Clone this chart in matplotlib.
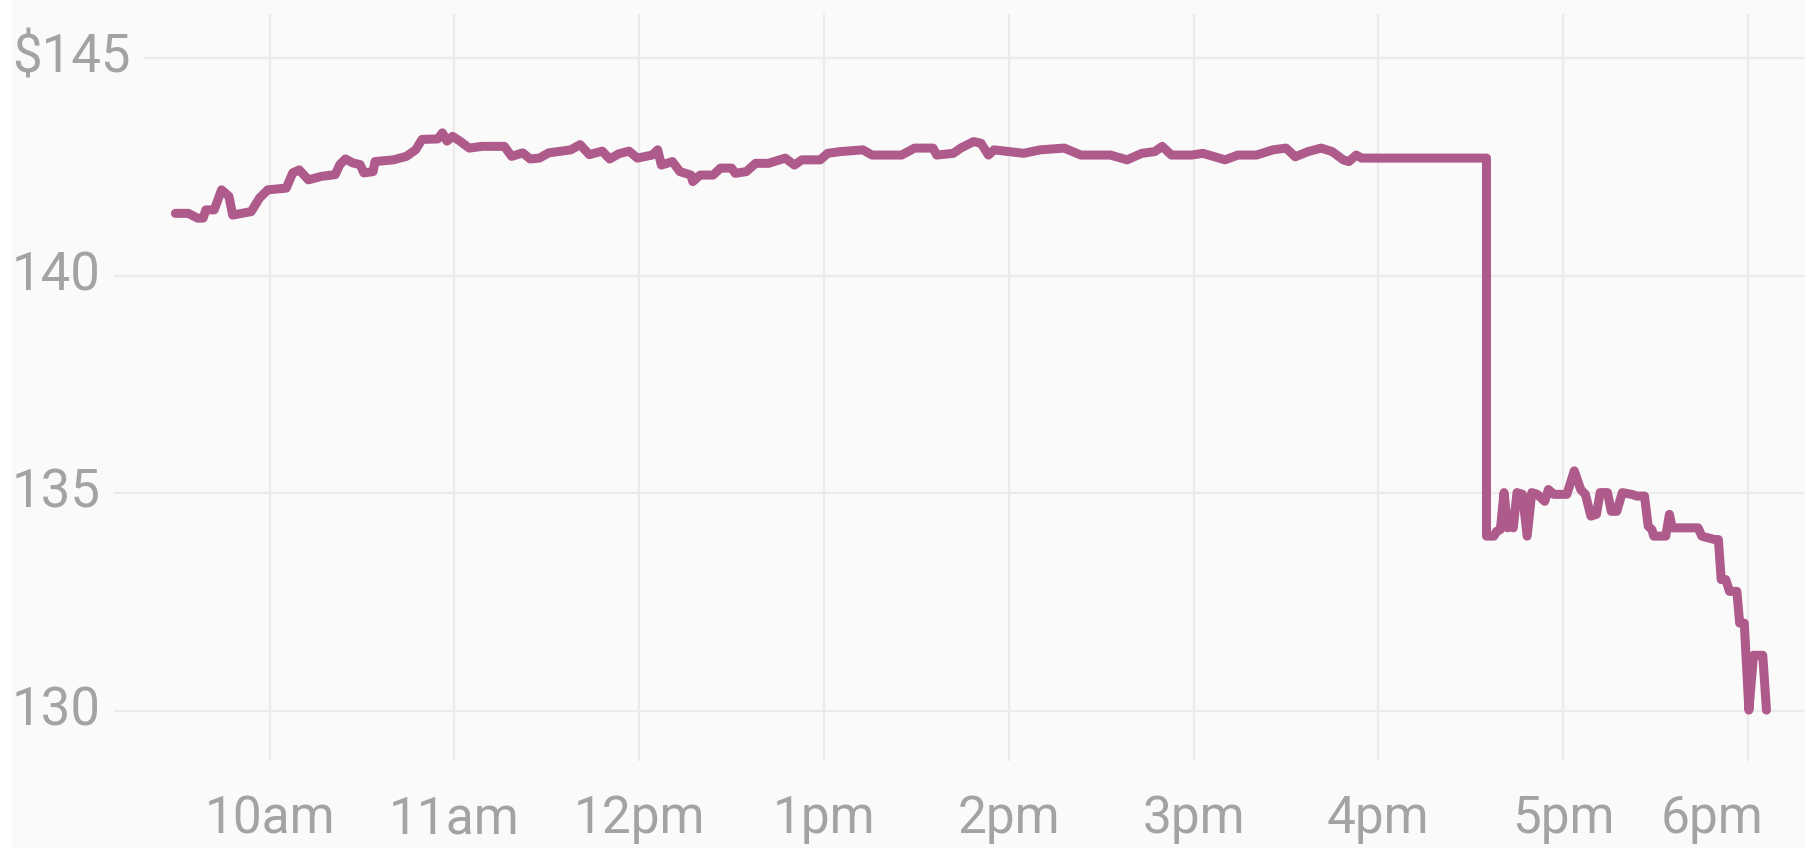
import matplotlib
matplotlib.use("Agg")
import matplotlib.pyplot as plt
from matplotlib import font_manager
from matplotlib.patches import Rectangle
from matplotlib.transforms import ScaledTranslation

# price path, hours since midnight (9.5 = 9:30am) and price in $
hours = [
    9.49, 9.56, 9.61, 9.64, 9.655, 9.70, 9.74, 9.78, 9.80, 9.90, 9.945, 9.99,
    10.09, 10.125, 10.16, 10.21, 10.28, 10.355, 10.38, 10.41, 10.45, 10.49,
    10.51, 10.56, 10.57, 10.67, 10.74, 10.79, 10.825, 10.91, 10.935, 10.96,
    10.99, 11.03, 11.08, 11.15, 11.27, 11.31, 11.37, 11.41, 11.46, 11.51,
    11.63, 11.68, 11.73, 11.80, 11.84, 11.89, 11.945, 11.99, 12.07, 12.10,
    12.12, 12.18, 12.22, 12.28, 12.29, 12.33, 12.40, 12.44, 12.50, 12.52,
    12.58, 12.63, 12.70, 12.79, 12.84, 12.88, 12.98, 13.02, 13.09, 13.21,
    13.26, 13.42, 13.49, 13.59, 13.61, 13.70, 13.74, 13.81, 13.85, 13.89,
    13.92, 14.08, 14.17, 14.30, 14.39, 14.55, 14.64, 14.72, 14.79, 14.83,
    14.88, 14.99, 15.05, 15.17, 15.24, 15.34, 15.43, 15.50, 15.55, 15.62,
    15.69, 15.75, 15.81, 15.84, 15.88, 15.91, 15.95, 16.585, 16.585, 16.625,
    16.64, 16.66, 16.68, 16.70, 16.715, 16.73, 16.75, 16.78, 16.805, 16.83,
    16.86, 16.90, 16.92, 16.95, 17.02, 17.06, 17.095, 17.12, 17.15, 17.18,
    17.20, 17.24, 17.26, 17.29, 17.32, 17.37, 17.40, 17.44, 17.46, 17.48,
    17.49, 17.555, 17.575, 17.59, 17.73, 17.75, 17.82, 17.84, 17.855, 17.88,
    17.90, 17.94, 17.955, 17.98, 18.005, 18.03, 18.08, 18.10,
]
prices = [
    141.44, 141.44, 141.33, 141.33, 141.52, 141.52, 141.98, 141.83, 141.40, 141.48, 141.79, 141.98,
    142.02, 142.37, 142.44, 142.21, 142.29, 142.33, 142.56, 142.69, 142.60, 142.56,
    142.37, 142.40, 142.63, 142.67, 142.75, 142.90, 143.14, 143.15, 143.29, 143.10,
    143.21, 143.10, 142.94, 142.98, 142.98, 142.75, 142.83, 142.69, 142.71, 142.83,
    142.90, 143.02, 142.79, 142.87, 142.69, 142.81, 142.87, 142.71, 142.78, 142.90,
    142.55, 142.63, 142.40, 142.32, 142.17, 142.32, 142.32, 142.48, 142.48, 142.36,
    142.40, 142.59, 142.59, 142.71, 142.55, 142.67, 142.67, 142.82, 142.86, 142.90,
    142.78, 142.78, 142.94, 142.94, 142.78, 142.82, 142.94, 143.09, 143.05, 142.78,
    142.90, 142.82, 142.90, 142.94, 142.78, 142.78, 142.67, 142.82, 142.86, 142.98,
    142.78, 142.78, 142.82, 142.67, 142.78, 142.78, 142.90, 142.94, 142.74, 142.86,
    142.94, 142.86, 142.67, 142.63, 142.78, 142.71, 142.71, 142.71, 134.02, 134.02,
    134.13, 134.17, 135.02, 134.21, 134.28, 134.21, 135.02, 134.98, 134.02, 135.02,
    134.98, 134.82, 135.09, 134.98, 134.98, 135.52, 135.09, 134.98, 134.48, 134.52,
    135.02, 135.02, 134.59, 134.59, 135.02, 134.98, 134.94, 134.94, 134.25, 134.17,
    134.02, 134.02, 134.52, 134.21, 134.21, 134.02, 133.94, 133.94, 133.02, 133.02,
    132.75, 132.75, 132.02, 132.02, 130.02, 131.28, 131.28, 130.02,
]

hour_ticks = [10, 11, 12, 13, 14, 15, 16, 17, 18]
hour_labels = ["10am", "11am", "12pm", "1pm", "2pm", "3pm", "4pm", "5pm", "6pm"]
price_ticks = [145, 140, 135, 130]
price_labels = ["$145", "140", "135", "130"]

BG = "#fafafa"
GRID = "#ebebeb"
TEXT = "#a3a3a3"
LINE = "#ae5a8b"

installed = {f.name for f in font_manager.fontManager.ttflist}
font = "Roboto" if "Roboto" in installed else "DejaVu Sans"

fig = plt.figure(figsize=(18.06, 8.48), dpi=100, facecolor=BG)
# thin white strip on the far left edge
fig.patches.append(Rectangle((0, 0), 12 / 1806, 1, transform=fig.transFigure,
                             facecolor="white", edgecolor="none", zorder=0))
ax = fig.add_axes([12 / 1806, 0.1026, 1 - 12 / 1806, 0.8809], facecolor=BG)

ax.plot(hours, prices, color=LINE, lw=6.5, solid_joinstyle="round", solid_capstyle="round", zorder=3)

ax.set_xlim(8.541 + 12 / 184.8, 18.314)
ax.set_ylim(128.85, 146.023)

# vertical grid + hour labels underneath
ax.set_xticks(hour_ticks)
ax.set_xticklabels(hour_labels, fontsize=37, color=TEXT, family=font)
ax.tick_params(axis="x", length=0, pad=24)
ax.grid(axis="x", color=GRID, lw=1.6)

# last label is pushed left so it stays inside the picture
last = ax.get_xticklabels()[-1]
last.set_ha("right")
last.set_transform(last.get_transform() + ScaledTranslation(0.15, 0, fig.dpi_scale_trans))

# horizontal grid with labels sitting inside the plot on the left
ax.set_yticks([])
for v, lab in zip(price_ticks, price_labels):
    ax.axhline(v, color=GRID, lw=1.6, zorder=1)
    ax.text(0.0, v, lab, transform=ax.get_yaxis_transform(), ha="left", va="center",
            fontsize=38, color=TEXT, family=font, zorder=2,
            bbox=dict(facecolor=BG, edgecolor="none", boxstyle="square,pad=0.25"))

for s in ax.spines.values():
    s.set_visible(False)

fig.savefig("out.png", dpi=100, facecolor=BG)
